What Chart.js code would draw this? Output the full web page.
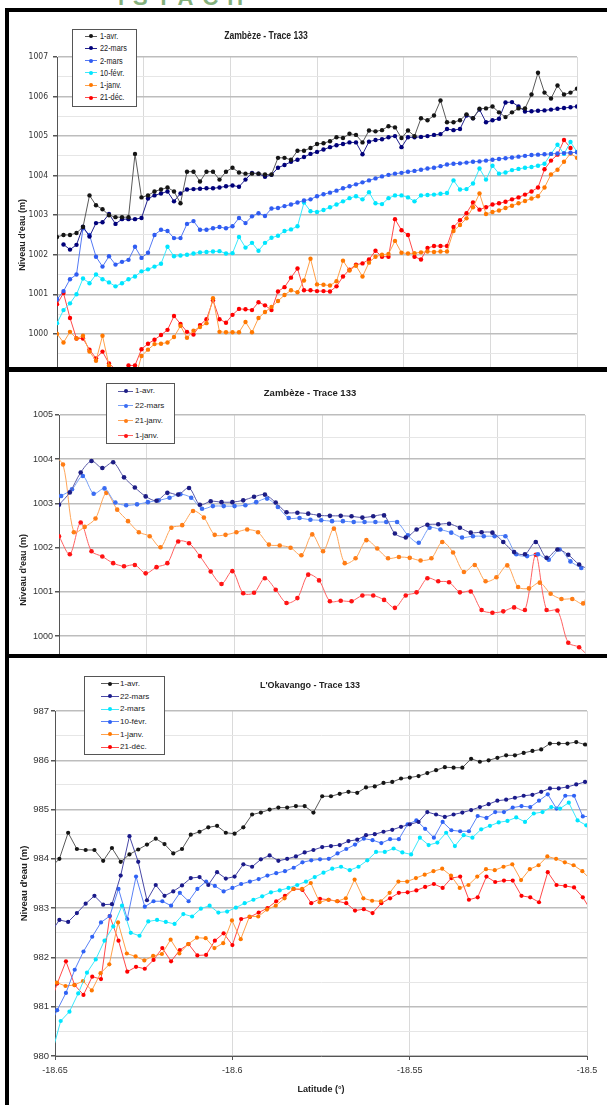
<!DOCTYPE html>
<html>
<head>
<meta charset="utf-8">
<script src="https://cdn.jsdelivr.net/npm/chart.js@4.4.1/dist/chart.umd.min.js"></script>
<style>
  html, body { margin: 0; padding: 0; background: #fff; }
  body { width: 607px; height: 1105px; position: relative; overflow: hidden; font-family: "Liberation Sans", Arial, sans-serif; }
  .bar { position: absolute; background: #000; }
  .panel { position: absolute; left: 9px; width: 598px; overflow: hidden; background: #fff; }
  .panel canvas { position: absolute; left: 0; top: 0; }
  .title { position: absolute; font-weight: bold; color: #222; white-space: nowrap; transform: translate(-50%, -50%); }
  .title.squeeze { transform: translate(-50%, -50%) scaleX(0.86); }
  .legend { position: absolute; background: #fff; border: 1px solid #555; box-sizing: border-box; }
  .legend .seg { position: absolute; height: 1px; }
  .legend .dot { position: absolute; width: 4px; height: 4px; border-radius: 50%; }
  .legend .lab { position: absolute; white-space: nowrap; color: #222; transform-origin: 0 50%; }
  .legend .lab.squeeze { transform: scaleX(0.86); }
  .logo { position: absolute; left: 118px; top: -15px; font: bold 22px "Liberation Sans", Arial, sans-serif; letter-spacing: 9px; color: #84b07c; }
</style>
</head>
<body>
<div class="logo">ISTACH</div>

<div class="panel" id="p1" style="top:12px;height:355px">
  <canvas id="c1" width="598" height="411"></canvas>
  <div class="title squeeze" style="left:257px;top:23px;font-size:10px">Zambèze - Trace 133</div>
</div>
<div class="panel" id="p2" style="top:372px;height:282px">
  <canvas id="c2" width="598" height="360"></canvas>
  <div class="title" style="left:301px;top:20px;font-size:9.5px">Zambèze - Trace 133</div>
</div>
<div class="panel" id="p3" style="top:658px;height:447px">
  <canvas id="c3" width="598" height="447"></canvas>
  <div class="title" style="left:301px;top:27px;font-size:9px">L'Okavango - Trace 133</div>
</div>

<div class="bar" style="left:5px;top:8px;width:4px;height:1097px"></div>
<div class="bar" style="left:5px;top:8px;width:602px;height:4px"></div>
<div class="bar" style="left:5px;top:367px;width:602px;height:5px"></div>
<div class="bar" style="left:5px;top:654px;width:602px;height:4px"></div>

<script>
// ---- upper panel : Zambèze, 6 passes (sampled every 1.5 grid units) ----
const p1Labels = ['1-avr.', '22-mars', '2-mars', '10-févr.', '1-janv.', '21-déc.'];
const p1Avr = [1002.45,1002.5,1002.5,1002.55,1002.7,1003.5,1003.25,1003.15,1003.0,1002.95,
  1002.95,1002.95,1004.55,1003.45,1003.5,1003.6,1003.65,1003.7,1003.6,1003.3,
  1004.1,1004.1,1003.85,1004.1,1004.1,1003.9,1004.1,1004.2,1004.08,1004.05,
  1004.05,1004.05,1004.03,1004.03,1004.45,1004.45,1004.4,1004.63,1004.63,1004.7,
  1004.8,1004.82,1004.87,1004.97,1004.95,1005.06,1005.03,1004.84,1005.14,1005.12,
  1005.15,1005.25,1005.22,1004.95,1005.14,1005.0,1005.45,1005.4,1005.52,1005.9,
  1005.35,1005.35,1005.4,1005.55,1005.45,1005.69,1005.7,1005.75,1005.6,1005.48,
  1005.6,1005.7,1005.7,1006.05,1006.6,1006.1,1005.95,1006.28,1006.05,1006.1,1006.2];
const p1Mars22 = [null,1002.26,1002.13,1002.25,1002.71,1002.46,1002.8,1002.82,1003.03,1002.78,
  1002.9,1002.9,1002.9,1002.93,1003.42,1003.5,1003.55,1003.6,1003.35,1003.55,
  1003.65,1003.66,1003.67,1003.68,1003.68,1003.7,1003.73,1003.75,1003.72,1003.9,
  1004.07,1004.05,1003.97,1004.02,1004.2,1004.27,1004.35,1004.4,1004.47,1004.55,
  1004.6,1004.66,1004.72,1004.77,1004.8,1004.84,1004.84,1004.54,1004.86,1004.9,
  1004.92,1004.97,1005.0,1004.72,1004.97,1004.97,1004.98,1005.0,1005.03,1005.05,
  1005.18,1005.15,1005.18,1005.52,1005.45,1005.67,1005.35,1005.4,1005.44,1005.85,
  1005.86,1005.75,1005.62,1005.63,1005.64,1005.65,1005.67,1005.69,1005.71,1005.73,1005.75];
const p1Mars2 = [1000.87,1001.08,1001.38,1001.5,1002.67,1002.5,1001.95,1001.7,1001.96,1001.75,
  1001.82,1001.87,1002.2,1001.92,1002.05,1002.5,1002.63,1002.6,1002.42,1002.42,
  1002.78,1002.85,1002.63,1002.63,1002.67,1002.7,1002.67,1002.72,1002.93,1002.8,
  1002.97,1003.05,1002.98,1003.17,1003.18,1003.23,1003.27,1003.32,1003.37,1003.4,
  1003.48,1003.53,1003.57,1003.62,1003.68,1003.73,1003.78,1003.83,1003.88,1003.93,
  1003.98,1004.02,1004.05,1004.07,1004.1,1004.12,1004.15,1004.18,1004.2,1004.24,
  1004.28,1004.3,1004.31,1004.33,1004.35,1004.36,1004.38,1004.4,1004.42,1004.44,
  1004.46,1004.48,1004.5,1004.52,1004.53,1004.54,1004.55,1004.56,1004.57,1004.58,1004.59];
const p1Fev10 = [1000.27,1000.6,1000.77,1001.0,1001.4,1001.28,1001.5,1001.38,1001.3,1001.2,
  1001.28,1001.38,1001.45,1001.58,1001.63,1001.7,1001.77,1002.2,1001.96,1001.98,
  1002.0,1002.03,1002.06,1002.07,1002.08,1002.09,1002.03,1002.04,1002.45,1002.18,
  1002.3,1002.1,1002.3,1002.43,1002.48,1002.6,1002.64,1002.72,1003.32,1003.1,
  1003.08,1003.13,1003.2,1003.27,1003.35,1003.43,1003.48,1003.4,1003.58,1003.3,
  1003.28,1003.43,1003.5,1003.5,1003.45,1003.35,1003.5,1003.51,1003.52,1003.54,
  1003.56,1003.88,1003.65,1003.66,1003.8,1004.18,1003.9,1004.25,1004.05,1004.08,
  1004.14,1004.17,1004.2,1004.22,1004.25,1004.3,1004.55,1004.78,1004.55,1004.85,1004.6];
const p1Janv1 = [1000.0,999.78,1000.05,999.88,999.95,999.55,999.32,999.95,999.2,998.8,
  998.7,998.7,998.85,999.44,999.6,999.74,999.75,999.78,999.92,1000.2,
  999.9,1000.08,1000.17,1000.27,1000.9,1000.05,1000.04,1000.04,1000.04,1000.3,
  1000.04,1000.4,1000.55,1000.68,1000.83,1000.98,1001.1,1001.05,1001.35,1001.9,
  1001.25,1001.24,1001.22,1001.33,1001.85,1001.6,1001.72,1001.45,1001.8,1001.95,
  1002.0,1002.02,1002.35,1002.05,1002.03,1002.04,1002.06,1002.08,1002.07,1002.08,
  1002.08,1002.6,1002.75,1002.92,1003.2,1003.55,1003.03,1003.08,1003.12,1003.18,
  1003.24,1003.3,1003.36,1003.42,1003.48,1003.7,1004.03,1004.15,1004.35,1004.56,1004.45];
const p1Dec21 = [1000.75,1001.03,1000.4,999.88,999.88,999.6,999.38,999.55,999.25,999.1,
  998.95,999.2,999.2,999.61,999.75,999.85,999.97,1000.1,1000.45,1000.25,
  1000.05,999.98,1000.22,1000.37,1000.85,1000.37,1000.28,1000.48,1000.63,1000.62,
  1000.6,1000.8,1000.72,1000.6,1001.07,1001.18,1001.42,1001.65,1001.1,1001.1,
  1001.08,1001.08,1001.07,1001.2,1001.45,1001.62,1001.75,1001.78,1001.88,1002.1,
  1001.95,1001.95,1002.9,1002.62,1002.5,1001.95,1001.88,1002.17,1002.22,1002.22,
  1002.22,1002.7,1002.87,1003.05,1003.32,1003.14,1003.2,1003.27,1003.3,1003.34,
  1003.4,1003.45,1003.52,1003.6,1003.7,1004.16,1004.38,1004.53,1004.9,1004.7,null];
const P1_STEP = 1.5;

// ---- middle panel : Zambèze, 4 passes ----
const p2Labels = ['1-avr.', '22-mars', '21-janv.', '1-janv.'];
const p2Avr = [1002.97,1003.25,1003.7,1003.96,1003.8,1003.93,1003.59,1003.36,1003.16,1003.06,
  1003.24,1003.2,1003.35,1002.97,1003.05,1003.03,1003.03,1003.07,1003.15,1003.2,
  1003.02,1002.8,1002.79,1002.77,1002.73,1002.72,1002.72,1002.71,1002.68,1002.71,
  1002.73,1002.32,1002.23,1002.41,1002.52,1002.53,1002.54,1002.45,1002.34,1002.35,
  1002.34,1002.13,1001.9,1001.85,1002.13,1001.77,1001.96,1001.84,1001.62,1001.5];
const p2Mars22 = [1003.17,1003.32,1003.62,1003.22,1003.34,1003.02,1002.96,1002.98,1003.03,1003.07,
  1003.13,1003.21,1003.13,1002.88,1002.94,1002.94,1002.94,1002.96,1003.03,1003.11,
  1002.92,1002.67,1002.67,1002.63,1002.62,1002.6,1002.6,1002.58,1002.58,1002.58,
  1002.58,1002.58,1002.28,1002.11,1002.45,1002.41,1002.34,1002.23,1002.26,1002.26,
  1002.26,1002.26,1001.85,1001.81,1001.85,1001.73,1001.96,1001.69,1001.54];
const p2Janv21 = [1004.1,1003.88,1002.35,1002.47,1002.66,1003.24,1002.86,1002.6,1002.35,1002.26,
  1002.01,1002.45,1002.51,1002.83,1002.68,1002.29,1002.29,1002.35,1002.41,1002.35,
  1002.07,1002.05,1002.0,1001.83,1002.3,1001.92,1002.43,1001.65,1001.76,1002.17,
  1001.98,1001.76,1001.79,1001.77,1001.71,1001.76,1002.13,1001.89,1001.45,1001.61,
  1001.24,1001.33,1001.6,1001.11,1001.08,1001.21,1000.96,1000.84,1000.84,1000.74,
  1001.5];
const p2Janv1 = [1002.26,1001.85,1002.57,1001.92,1001.8,1001.65,1001.58,1001.61,1001.42,1001.56,
  1001.65,1002.14,1002.1,1001.81,1001.46,1001.18,1001.47,1000.97,1000.98,1001.31,
  1001.05,1000.75,1000.86,1001.39,1001.26,1000.79,1000.8,1000.79,1000.92,1000.92,
  1000.82,1000.64,1000.92,1000.99,1001.31,1001.24,1001.22,1000.99,1001.01,1000.59,
  1000.53,1000.56,1000.65,1000.59,1001.84,1000.59,1000.58,999.85,999.75,999.5];
const P2_STEP = 0.1236;
const p2Shift = [0, 0.2, -0.63, 0];

// ---- lower panel : Okavango, latitude profile ----
const p3Labels = ['1-avr.', '22-mars', '2-mars', '10-févr.', '1-janv.', '21-déc.'];
const p3Avr = [983.82,984.0,984.53,984.2,984.18,984.18,983.96,984.22,983.94,984.09,
  984.19,984.29,984.41,984.3,984.11,984.2,984.49,984.55,984.64,984.67,
  984.53,984.51,984.64,984.9,984.94,985.0,985.04,985.04,985.07,985.07,
  984.94,985.27,985.27,985.32,985.36,985.34,985.45,985.47,985.54,985.56,
  985.63,985.65,985.68,985.74,985.8,985.86,985.85,985.85,986.03,985.97,
  986.0,986.05,986.1,986.1,986.15,986.19,986.22,986.34,986.34,986.34,
  986.37,986.32,986.17];
const p3Mars22 = [982.5,982.76,982.72,982.9,983.09,983.25,983.07,983.08,983.66,984.46,
  983.94,983.16,983.47,983.25,983.34,983.46,983.61,983.63,983.47,983.73,
  983.6,983.64,983.89,983.84,983.99,984.07,983.96,984.0,984.05,984.13,
  984.18,984.24,984.26,984.28,984.36,984.39,984.48,984.5,984.55,984.59,
  984.65,984.7,984.75,984.95,984.9,984.85,984.9,984.94,984.99,985.05,
  985.11,985.18,985.2,985.24,985.28,985.3,985.36,985.43,985.43,985.46,
  985.51,985.56,985.58];
const p3Mars2 = [980.06,980.71,980.9,981.27,981.69,981.96,982.34,982.63,983.05,982.5,
  982.44,982.73,982.76,982.72,982.68,982.88,982.83,982.99,983.05,982.91,
  982.93,983.01,983.1,983.17,983.24,983.32,983.36,983.41,983.47,983.54,
  983.63,983.72,983.8,983.84,983.77,983.84,983.97,984.14,984.14,984.21,
  984.13,984.09,984.43,984.28,984.33,984.53,984.26,984.48,984.43,984.6,
  984.67,984.74,984.77,984.84,984.75,984.92,984.95,985.05,985.02,985.14,
  984.78,984.68];
const p3Fev10 = [980.55,980.93,981.28,981.75,982.12,982.42,982.71,982.84,983.39,982.78,
  983.64,983.03,983.14,983.14,983.05,983.31,983.14,983.39,983.54,983.45,
  983.34,983.41,983.49,983.54,983.59,983.66,983.71,983.75,983.82,983.93,
  983.97,983.99,984.0,984.11,984.2,984.29,984.41,984.38,984.32,984.4,
  984.4,984.7,984.78,984.61,984.43,984.75,984.58,984.56,984.56,984.87,
  984.83,984.95,984.95,985.04,985.07,985.05,985.18,985.31,985.02,985.28,
  985.28,984.86,984.86];
const p3Janv1 = [981.49,981.42,981.44,981.52,981.33,981.68,981.86,982.71,982.08,982.02,
  981.94,982.03,982.07,982.36,982.08,982.27,982.4,982.39,982.19,982.29,
  982.75,982.37,982.83,982.83,982.97,983.05,983.2,983.39,983.39,983.51,
  983.12,983.17,983.14,983.2,983.58,983.2,983.15,983.14,983.31,983.54,
  983.54,983.61,983.68,983.75,983.8,983.66,983.41,983.47,983.64,983.79,
  983.77,983.84,983.89,983.57,983.79,983.87,984.05,984.0,983.93,983.87,
  983.75,983.57];
const p3Dec21 = [980.95,981.47,981.92,981.44,981.24,981.61,981.56,982.84,982.34,981.71,
  981.81,981.77,981.95,982.19,981.92,982.15,982.27,982.04,982.05,982.34,
  982.49,982.25,982.78,982.82,982.91,983.0,983.14,983.25,983.39,983.37,
  983.1,983.19,983.17,983.14,983.1,982.95,982.98,982.9,983.1,983.2,
  983.31,983.32,983.36,983.43,983.49,983.41,983.61,983.64,983.17,983.22,
  983.64,983.53,983.56,983.56,983.25,983.22,983.12,983.73,983.47,983.45,
  983.42,983.22,982.93];
const LAT_START = -18.65;
const LAT_STEP = 0.00247;
const p3Shift = [-0.5, -0.5, -0.35, -0.75, 0.2, -0.75];

// colours
const p1Marker = ['#151515', '#00007a', '#2f5cf2', '#00e6ff', '#ff7800', '#ff0000'];
const p1Line   = ['#5a5a5a', '#22228e', '#5479f4', '#3ce8fb', '#ffa04a', '#ff4a4a'];
const p2Marker = ['#1c1c84', '#3a6cf2', '#ff7d16', '#ff1414'];
const p2Line   = ['#5a5aa6', '#78a0f6', '#ffa65a', '#ff6262'];
const p3Marker = ['#151515', '#1a1a8a', '#00e6ff', '#2f62f5', '#ff7800', '#ff0000'];
const p3Line   = ['#5a5a5a', '#4848a6', '#3ce8fb', '#5a82f6', '#ffa04a', '#ff4a4a'];

const isWhole = v => Math.abs(v - Math.round(v)) < 1e-6;

function points(values, start, step, shift) {
  return values.map((v, i) => ({ x: start + step * (i + shift), y: v }));
}

function makeDatasets(series, xs, markers, lines, radius) {
  return series.map((s, k) => ({
    data: xs(s, k),
    borderColor: lines[k],
    backgroundColor: markers[k],
    pointBackgroundColor: markers[k],
    pointBorderWidth: 0,
    pointRadius: radius,
    borderWidth: 1
  }));
}

function makeChart(id, datasets, c) {
  return new Chart(document.getElementById(id), {
    type: 'line',
    data: { datasets },
    options: {
      animation: false,
      responsive: false,
      devicePixelRatio: 1,
      layout: { padding: { top: c.padTop, right: c.padRight, left: 0, bottom: 0 } },
      plugins: { legend: { display: false }, tooltip: { enabled: false }, title: { display: false } },
      elements: { line: { tension: c.tension } },
      scales: {
        x: {
          type: 'linear',
          min: c.xMin, max: c.xMax,
          afterFit: s => { s.height = c.xHeight; },
          ticks: {
            display: c.xLabels, stepSize: c.xStep, padding: 5, color: '#333',
            font: { family: 'Liberation Sans', size: 9 },
            callback: v => String(parseFloat(v.toFixed(3)))
          },
          grid: {
            color: ctx => ctx.index === 0 ? 'rgba(0,0,0,0)' : '#dadada',
            drawTicks: c.xLabels, tickLength: 4, tickColor: '#555'
          },
          border: { display: c.xLabels, color: '#555' },
          title: {
            display: c.xLabels, text: 'Latitude (°)', color: '#222',
            font: { family: 'Liberation Sans', size: 9, weight: 'bold' },
            padding: { top: 0, bottom: 10 }
          }
        },
        y: {
          min: c.yMin, max: c.yMax,
          afterFit: s => { s.width = c.yWidth; },
          ticks: {
            stepSize: 0.5, padding: c.tickPad, color: '#333',
            font: { family: c.tickFamily, size: c.tickSize },
            callback: v => isWhole(v) ? String(Math.round(v)) : ''
          },
          grid: {
            color: ctx => isWhole(ctx.tick.value) ? '#bdbdbd' : '#e6e6e6',
            lineWidth: ctx => isWhole(ctx.tick.value) ? 1.5 : 1,
            tickLength: 4,
            tickColor: ctx => isWhole(ctx.tick.value) ? '#555' : 'rgba(0,0,0,0)'
          },
          border: { color: '#555', width: 1 },
          title: {
            display: true, text: "Niveau d'eau (m)", color: '#222',
            font: { family: 'Liberation Sans', size: c.yTitleSize, weight: 'bold' },
            padding: { top: c.yTitlePad, bottom: 0 }
          }
        }
      }
    }
  });
}

function addLegend(panelId, box, labels, markers, lines, f) {
  const panel = document.getElementById(panelId);
  const lg = document.createElement('div');
  lg.className = 'legend';
  lg.style.left = box[0] + 'px';
  lg.style.top = box[1] + 'px';
  lg.style.width = box[2] + 'px';
  lg.style.height = box[3] + 'px';
  labels.forEach((text, k) => {
    const y = f.first + k * f.gap;
    const seg = document.createElement('div');
    seg.className = 'seg';
    seg.style.left = f.segFrom + 'px';
    seg.style.width = (f.segTo - f.segFrom) + 'px';
    seg.style.top = (y - 0.5) + 'px';
    seg.style.background = lines[k];
    const dot = document.createElement('div');
    dot.className = 'dot';
    dot.style.left = (f.mark - 2) + 'px';
    dot.style.top = (y - 2) + 'px';
    dot.style.background = markers[k];
    const lab = document.createElement('span');
    lab.className = 'lab' + (f.squeeze ? ' squeeze' : '');
    lab.textContent = text;
    lab.style.left = f.text + 'px';
    lab.style.top = (y - f.size * 0.6) + 'px';
    lab.style.fontSize = f.size + 'px';
    lab.style.lineHeight = (f.size * 1.2) + 'px';
    lg.append(seg, dot, lab);
  });
  panel.appendChild(lg);
}

// upper panel
makeChart('c1',
  makeDatasets([p1Avr, p1Mars22, p1Mars2, p1Fev10, p1Janv1, p1Dec21],
    s => points(s, 0, P1_STEP, 0), p1Marker, p1Line, 2.2),
  { padTop: 45, padRight: 30, yWidth: 48, yMin: 998, yMax: 1007, xMin: 0, xMax: 120, xStep: 20,
    xHeight: 0, xLabels: false, tension: 0, tickPad: 5, tickSize: 8.5,
    tickFamily: '"Liberation Sans Narrow", "Arial Narrow", "DejaVu Sans Condensed", "Liberation Sans"',
    yTitleSize: 9, yTitlePad: 8 });
addLegend('p1', [63, 17, 65, 78], p1Labels, p1Marker, p1Line,
  { first: 6, gap: 12.3, segFrom: 12, segTo: 24, mark: 18, text: 27, size: 8.5, squeeze: true });

// middle panel
makeChart('c2',
  makeDatasets([p2Avr, p2Mars22, p2Janv21, p2Janv1],
    (s, k) => points(s, 0, P2_STEP, p2Shift[k]), p2Marker, p2Line, 2.3),
  { padTop: 43, padRight: 22, yWidth: 50, yMin: 998, yMax: 1005, xMin: 0, xMax: 6, xStep: 1,
    xHeight: 0, xLabels: false, tension: 0.3, tickPad: 2, tickSize: 9,
    tickFamily: '"Liberation Sans"', yTitleSize: 9, yTitlePad: 9 });
addLegend('p2', [97, 11, 69, 61], p2Labels, p2Marker, p2Line,
  { first: 7, gap: 14.9, segFrom: 11, segTo: 26, mark: 18.5, text: 28, size: 8, squeeze: false });

// lower panel
makeChart('c3',
  makeDatasets([p3Avr, p3Mars22, p3Mars2, p3Fev10, p3Janv1, p3Dec21],
    (s, k) => points(s, LAT_START, LAT_STEP, p3Shift[k]), p3Marker, p3Line, 2.1),
  { padTop: 53, padRight: 20, yWidth: 46, yMin: 980, yMax: 987, xMin: -18.65, xMax: -18.5, xStep: 0.05,
    xHeight: 49, xLabels: true, tension: 0, tickPad: 2, tickSize: 9.5,
    tickFamily: '"Liberation Sans"', yTitleSize: 9.5, yTitlePad: 10 });
addLegend('p3', [75, 18, 81, 79], p3Labels, p3Marker, p3Line,
  { first: 6.6, gap: 12.7, segFrom: 16, segTo: 34, mark: 24.7, text: 35, size: 8, squeeze: false });
</script>
</body>
</html>
